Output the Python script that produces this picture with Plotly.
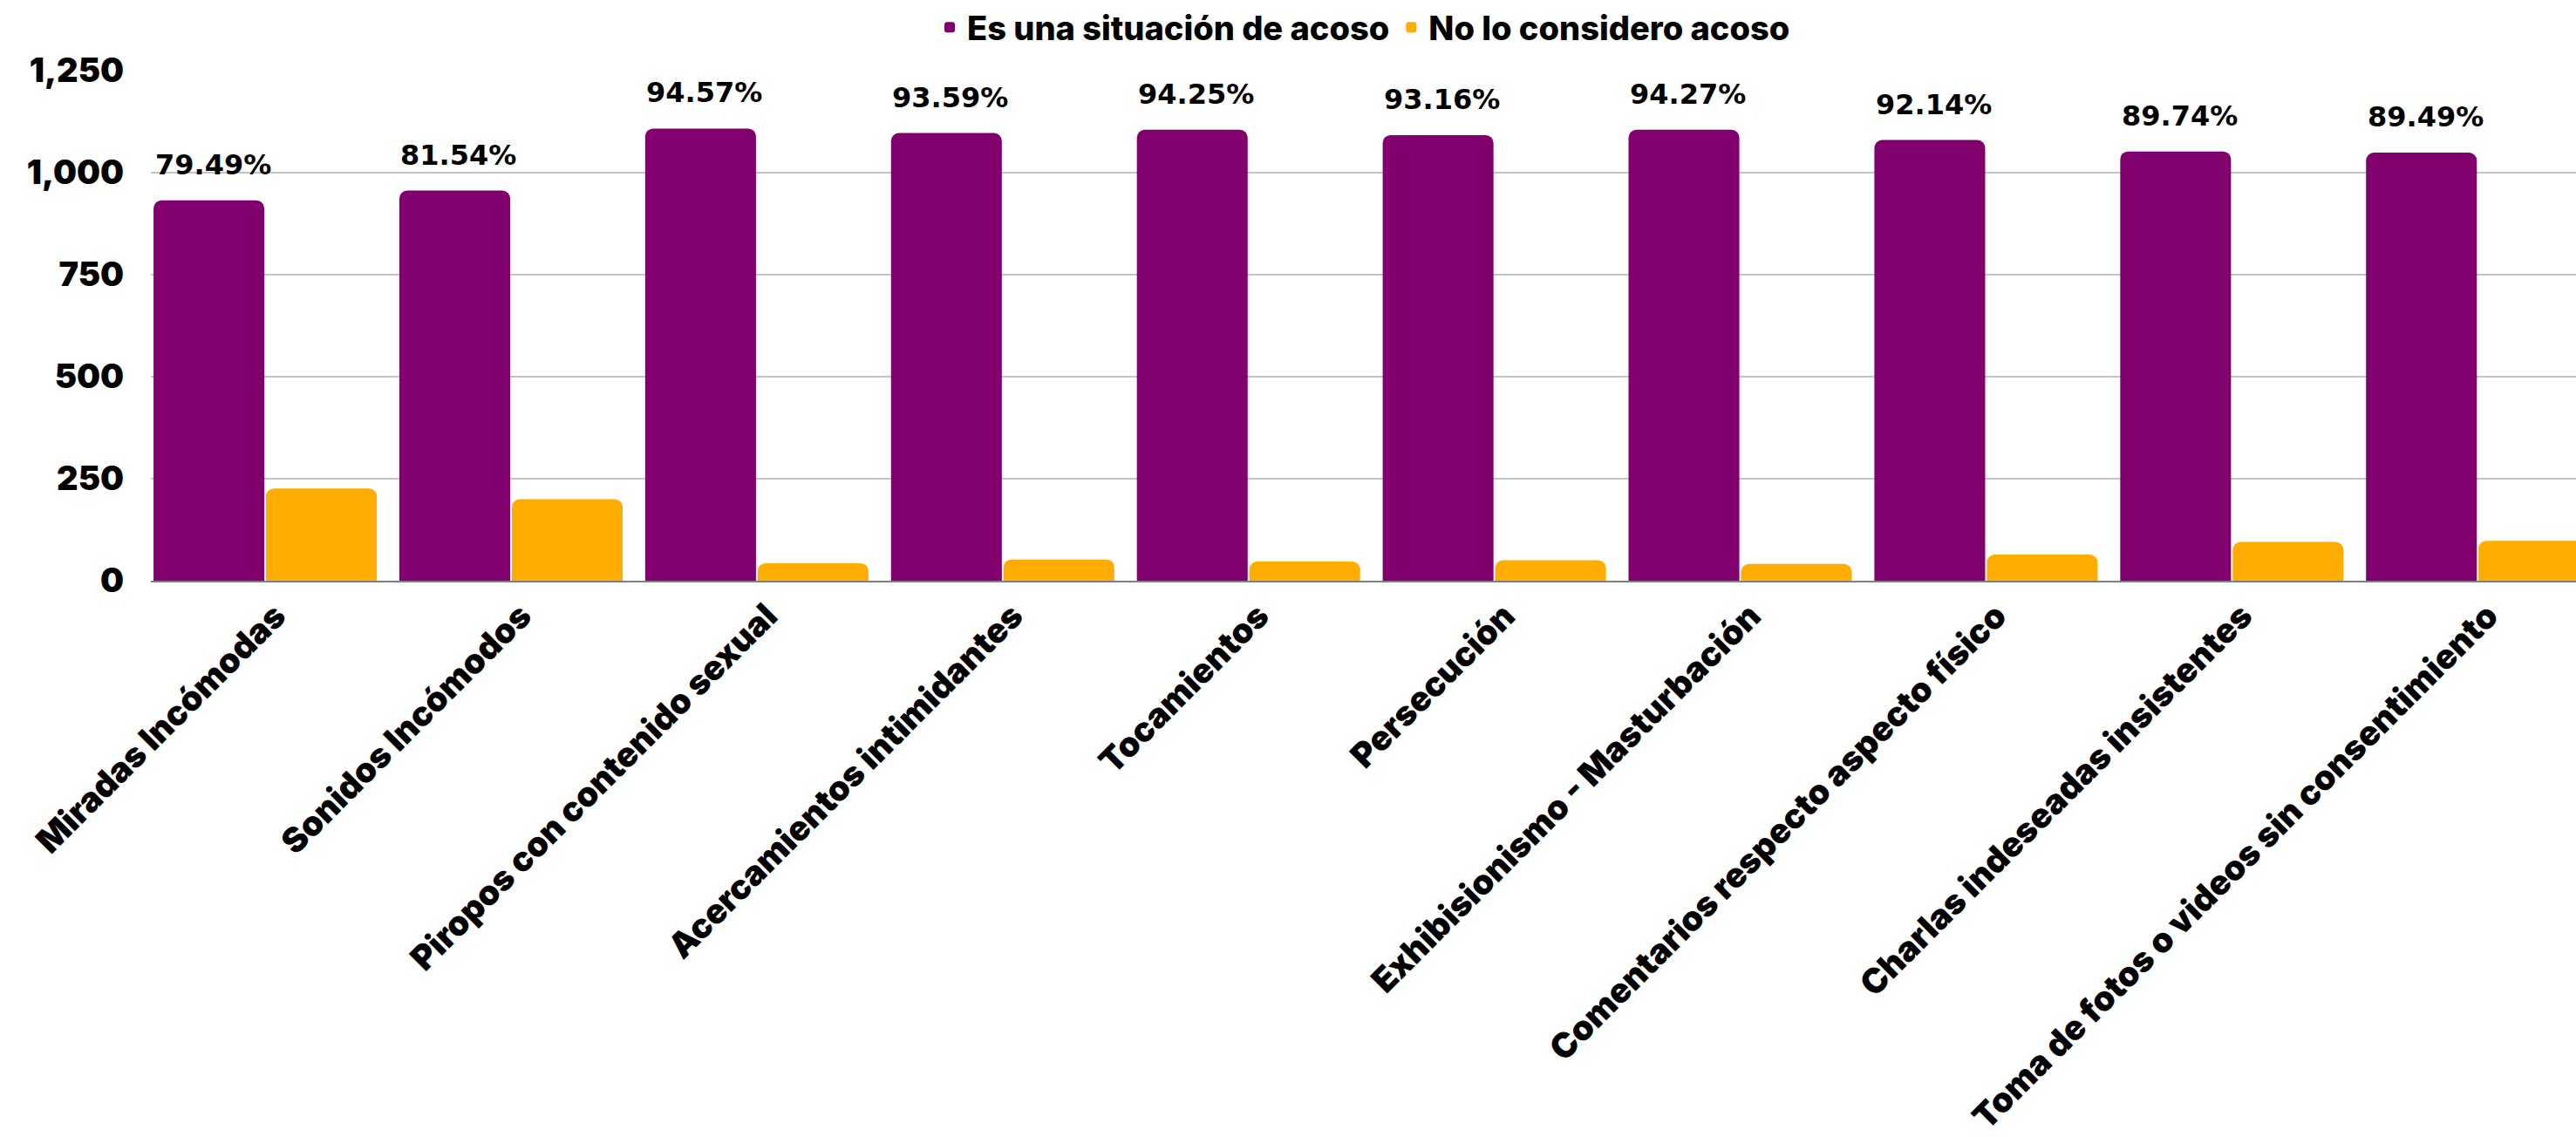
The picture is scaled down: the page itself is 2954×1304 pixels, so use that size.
import plotly.graph_objects as go

categories = [
    "Miradas Incómodas",
    "Sonidos Incómodos",
    "Piropos con contenido sexual",
    "Acercamientos intimidantes",
    "Tocamientos",
    "Persecución",
    "Exhibisionismo - Masturbación",
    "Comentarios respecto aspecto físico",
    "Charlas indeseadas insistentes",
    "Toma de fotos o videos sin consentimiento",
]
es_acoso = [932, 956, 1108, 1097, 1105, 1092, 1105, 1080, 1052, 1049]
no_acoso = [226, 200, 43, 52, 47, 50, 41, 64, 95, 98]
pct_labels = ["79.49%", "81.54%", "94.57%", "93.59%", "94.25%",
              "93.16%", "94.27%", "92.14%", "89.74%", "89.49%"]
y_ticks = [0, 250, 500, 750, 1000, 1250]

PURPLE = "#82006E"
ORANGE = "#FFAD00"
FONT = "Inter"

fig = go.Figure()
fig.add_trace(go.Bar(name="Es una situación de acoso", x=categories, y=es_acoso,
                     marker=dict(color=PURPLE, line=dict(width=0))))
fig.add_trace(go.Bar(name="No lo considero acoso", x=categories, y=no_acoso,
                     marker=dict(color=ORANGE, line=dict(width=0))))

for c, v, t in zip(categories, es_acoso, pct_labels):
    fig.add_annotation(x=c, y=v, text=t, showarrow=False, xref="x", yref="y",
                       xanchor="center", yanchor="bottom", xshift=-60, yshift=20,
                       font=dict(family="DejaVu Sans", size=32, color="black", weight="bold"))

fig.update_layout(
    width=2954, height=1304,
    margin=dict(l=173, r=0, t=78, b=636, pad=0),
    paper_bgcolor="white", plot_bgcolor="white",
    barmode="group", bargap=0.085, bargroupgap=0.015, barcornerradius=9,
    font=dict(family=FONT, color="black", size=36, weight=900),
    legend=dict(orientation="h", x=0.5, xanchor="center", y=1.085, yanchor="middle",
                font=dict(family=FONT, size=38, weight=800, color="black"),
                itemwidth=30, tracegroupgap=0, bgcolor="rgba(0,0,0,0)"),
    showlegend=True,
)
fig.update_yaxes(range=[0, 1250], tickvals=y_ticks, tickformat=",",
                 showgrid=True, gridcolor="#c4c4c4", gridwidth=2,
                 zeroline=False, showline=False, ticks="",
                 ticklabelstandoff=30,
                 tickfont=dict(family=FONT, size=38, weight=900, color="black"))
fig.update_xaxes(range=[-0.465, 9.40], tickangle=-45, showgrid=False,
                 showline=True, linecolor="#808080", linewidth=2, ticks="",
                 ticklabelshift=12,
                 tickfont=dict(family=FONT, size=39, weight=900, color="black"))

fig.write_html("out.html", config={"displayModeBar": False},
               post_script="document.body.style.margin='0';")
